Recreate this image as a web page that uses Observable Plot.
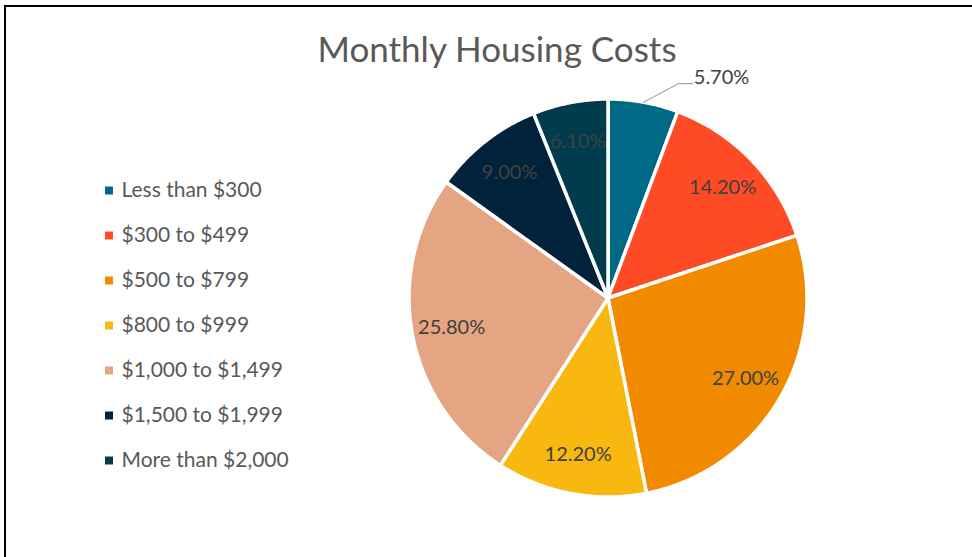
<!DOCTYPE html>
<html>
<head>
<meta charset="utf-8">
<script src="https://cdn.jsdelivr.net/npm/d3@7"></script>
<script src="https://cdn.jsdelivr.net/npm/@observablehq/plot@0.6"></script>
<style>
  html, body { margin: 0; padding: 0; background: #fff; }
  #wrap { position: relative; width: 972px; height: 557px; overflow: hidden; background: #fff; font-family: Lato, "Open Sans", sans-serif; }
  #frame { position: absolute; left: 4px; top: 5px; width: 1200px; height: 800px; border-top: 2.5px solid #000; border-left: 2px solid #000; }
  #title { position: absolute; left: 0; width: 994px; top: 27px; text-align: center; font-size: 35px; color: #595959; font-weight: 400; }
  #pie, #legend { position: absolute; }
  #pie { left: 0; top: 0; }
  #legend { left: 95px; top: 170px; }
</style>
</head>
<body>
<div id="wrap">
  <div id="frame"></div>
  <div id="pie"></div>
  <div id="title">Monthly Housing Costs</div>
  <div id="legend"></div>
</div>
<script>
// ---- data ----
const categories = ["Less than $300", "$300 to $499", "$500 to $799", "$800 to $999", "$1,000 to $1,499", "$1,500 to $1,999", "More than $2,000"];
const shares = [5.7, 14.2, 27.0, 12.2, 25.8, 9.0, 6.1];
const colors = ["#006A86", "#FF4A26", "#F28A00", "#F8B80F", "#E5A482", "#00233B", "#003C4E"];

const rows = categories.map((c, i) => ({category: c, value: shares[i]}));
const colorScale = {type: "ordinal", domain: categories, range: colors};

// ---- pie geometry from data ----
const arcs = d3.pie().sort(null).value(d => d.value).startAngle(0).endAngle(2 * Math.PI)(rows);
const polar = (r, a) => [r * Math.sin(a), r * Math.cos(a)];

const slicePts = [];
for (const a of arcs) {
  const key = a.data.category;
  slicePts.push({key, p: [0, 0]});
  const n = Math.max(2, Math.ceil((a.endAngle - a.startAngle) / 0.005));
  for (let k = 0; k <= n; k++) {
    const t = a.startAngle + (a.endAngle - a.startAngle) * k / n;
    slicePts.push({key, p: polar(1, t)});
  }
  slicePts.push({key, p: [0, 0]});
}

const fmt = v => v.toFixed(2) + "%";
const mid = a => (a.startAngle + a.endAngle) / 2;
const inside = arcs.filter(a => a.data.value >= 6);
const outside = arcs.filter(a => a.data.value < 6);

const insideLabels = inside.map(a => ({p: polar(0.8, mid(a)), text: fmt(a.data.value)}));
const leaders = [];
const outsideLabels = [];
for (const a of outside) {
  const m = mid(a);
  const e = polar(1.0, m);
  const k = polar(1.135, m + 0.14);
  const end = [k[0] + 0.07, k[1]];
  leaders.push({key: a.data.category, p: e}, {key: a.data.category, p: k}, {key: a.data.category, p: end});
  outsideLabels.push({p: [end[0] + 0.005, k[1] + 0.03], text: fmt(a.data.value)});
}

const R = 199, cx = 607.5, cy = 297.5, W = 972, H = 557;
const pie = Plot.plot({
  width: W, height: H,
  marginLeft: cx - R, marginRight: W - cx - R, marginTop: cy - R, marginBottom: H - cy - R,
  x: {domain: [-1, 1], axis: null},
  y: {domain: [-1, 1], axis: null},
  color: colorScale,
  style: {background: "transparent", overflow: "visible"},
  marks: [
    Plot.line(slicePts, {x: d => d.p[0], y: d => d.p[1], z: "key", fill: "key", stroke: "white", strokeWidth: 3.5, strokeLinejoin: "round", curve: "linear"}),
    Plot.line(leaders, {x: d => d.p[0], y: d => d.p[1], z: "key", stroke: "#A6A6A6", strokeWidth: 1.2}),
    Plot.text(insideLabels, {x: d => d.p[0], y: d => d.p[1], text: "text", fill: "#404040", fontSize: 20, fontFamily: "Lato, sans-serif"}),
    Plot.text(outsideLabels, {x: d => d.p[0], y: d => d.p[1], text: "text", fill: "#404040", fontSize: 20, textAnchor: "start", fontFamily: "Lato, sans-serif"})
  ]
});
document.getElementById("pie").append(pie);

const legend = Plot.plot({
  width: 230, height: 310,
  marginLeft: 0, marginRight: 0, marginTop: 19, marginBottom: 20,
  x: {axis: null, domain: [0, 1]},
  y: {type: "point", domain: categories, padding: 0, axis: null},
  color: colorScale,
  style: {background: "transparent", overflow: "visible"},
  marks: [
    Plot.dot(categories, {y: d => d, frameAnchor: "left", dx: 13.5, symbol: "square", r: 4.5, fill: d => d, stroke: null}),
    Plot.text(categories, {y: d => d, frameAnchor: "left", dx: 26, text: d => d, textAnchor: "start", fill: "#595959", fontSize: 21, fontFamily: "Lato, sans-serif"})
  ]
});
document.getElementById("legend").append(legend);
</script>
</body>
</html>
